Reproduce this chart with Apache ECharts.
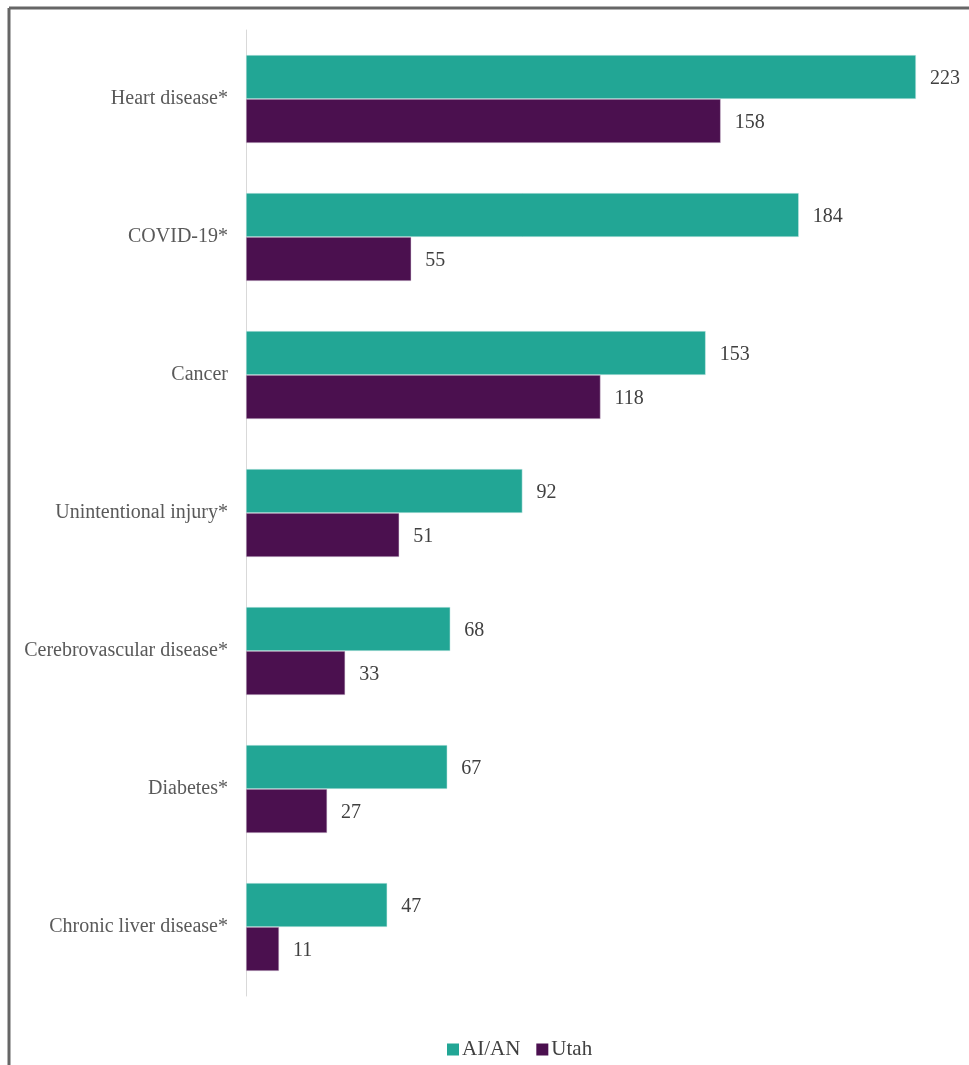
<!DOCTYPE html>
<html>
<head>
<meta charset="utf-8">
<script src="https://cdn.jsdelivr.net/npm/echarts@6/dist/echarts.min.js"></script>
<style>
  html, body { margin: 0; padding: 0; background: #fff; }
  #main { width: 969px; height: 1065px; }
</style>
</head>
<body>
<div id="main"></div>
<script>
var causes = ['Heart disease*', 'COVID-19*', 'Cancer', 'Unintentional injury*',
              'Cerebrovascular disease*', 'Diabetes*', 'Chronic liver disease*'];
var aian = [223, 184, 153, 92, 68, 67, 47];
var utah = [158, 55, 118, 51, 33, 27, 11];

var font = '"Liberation Serif", "DejaVu Serif", serif';
var chart = echarts.init(document.getElementById('main'));

var option = {
    backgroundColor: '#fff',
    textStyle: { fontFamily: font },
    animation: false,
    graphic: [
        { type: 'line', shape: { x1: 9, y1: 8, x2: 969, y2: 8 }, style: { stroke: '#666', lineWidth: 3 } },
        { type: 'line', shape: { x1: 9, y1: 8, x2: 9, y2: 1065 }, style: { stroke: '#666', lineWidth: 3 } }
    ],
    legend: {
        bottom: 0,
        left: 442,
        itemWidth: 12,
        itemHeight: 12,
        itemGap: 16,
        icon: 'rect',
        itemStyle: { borderWidth: 0 },
        textStyle: { fontFamily: font, fontSize: 21, color: '#404040', padding: [0, 0, 0, -2] },
        data: ['AI/AN', 'Utah']
    },
    grid: { left: 246, right: 32, top: 30, bottom: 69, containLabel: false },
    xAxis: {
        type: 'value',
        min: 0,
        max: 230,
        show: false,
        splitLine: { show: false }
    },
    yAxis: {
        type: 'category',
        inverse: true,
        data: causes,
        axisLine: { show: true, lineStyle: { color: '#d9d9d9', width: 1 } },
        axisTick: { show: false },
        axisLabel: { fontFamily: font, fontSize: 20, color: '#595959', margin: 18 }
    },
    series: [{
        name: 'AI/AN',
        type: 'bar',
        data: aian,
        barWidth: 44,
        barGap: '0%',
        itemStyle: { color: '#22a695', borderColor: '#d6efec', borderWidth: 0.5 },
        label: { show: true, position: 'right', distance: 14, offset: [0, 2], fontFamily: font, fontSize: 20, color: '#404040' }
    }, {
        name: 'Utah',
        type: 'bar',
        data: utah,
        barWidth: 44,
        barGap: '0%',
        itemStyle: { color: '#4b104f', borderColor: '#ddd0de', borderWidth: 0.5 },
        label: { show: true, position: 'right', distance: 14, offset: [0, 2], fontFamily: font, fontSize: 20, color: '#404040' }
    }]
};
chart.setOption(option);
</script>
</body>
</html>
